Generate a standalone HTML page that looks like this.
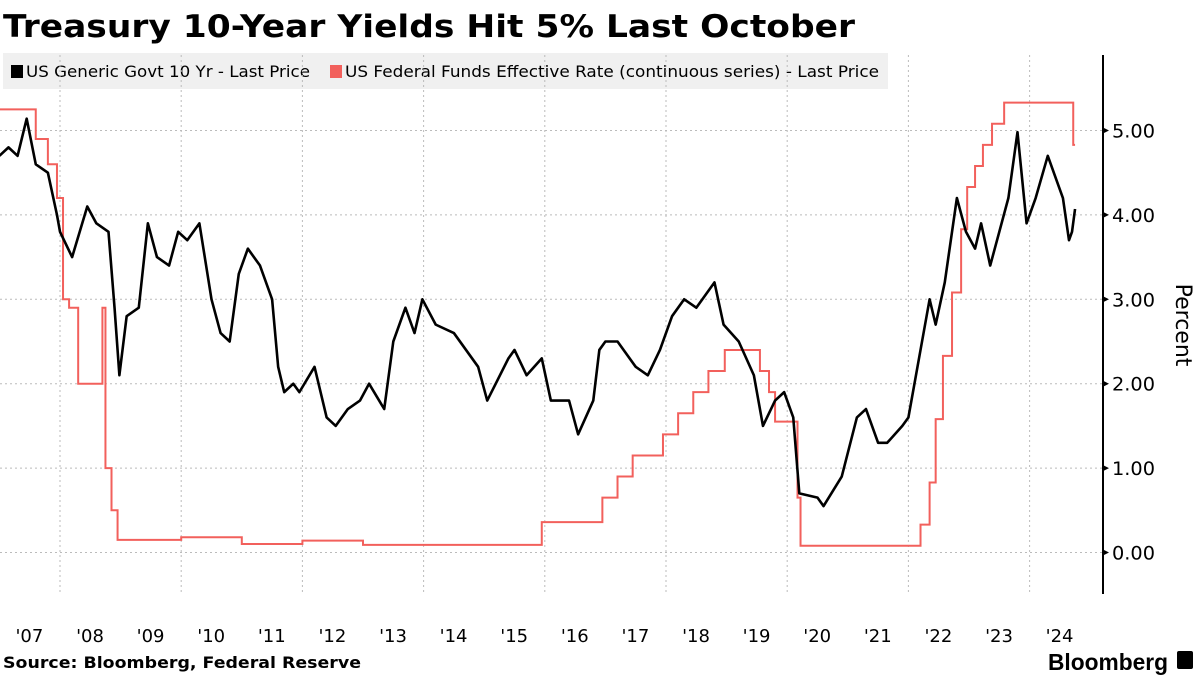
<!DOCTYPE html>
<html><head><meta charset="utf-8"><style>
body{margin:0;width:1200px;height:675px;background:#fff;overflow:hidden;font-family:"DejaVu Sans","Liberation Sans",sans-serif}
svg{position:absolute;left:0;top:0;font-family:"DejaVu Sans","Liberation Sans",sans-serif}
</style></head><body>
<svg id="c" width="1200" height="675">
<text x="3" y="37" font-size="31" font-weight="bold" fill="#000" textLength="852" lengthAdjust="spacingAndGlyphs">Treasury 10-Year Yields Hit 5% Last October</text>
<rect x="3" y="53" width="885" height="36" fill="#f0f0f0"/>
<g><rect x="11" y="65" width="12" height="13" fill="#000"/><text x="26" y="77" font-size="16" fill="#000" textLength="284" lengthAdjust="spacingAndGlyphs">US Generic Govt 10 Yr - Last Price</text></g>
<g><rect x="330" y="65" width="12" height="13" fill="#f2605c"/><text x="345" y="77" font-size="16" fill="#000" textLength="534" lengthAdjust="spacingAndGlyphs">US Federal Funds Effective Rate (continuous series) - Last Price</text></g>
<g id="grid"></g><g id="ffr"></g><g id="tsy"></g><g id="axes"></g>
<text transform="translate(1176,325) rotate(90)" text-anchor="middle" font-size="22" fill="#000">Percent</text>
<text x="3" y="668" font-size="16" font-weight="bold" fill="#000" textLength="358" lengthAdjust="spacingAndGlyphs">Source: Bloomberg, Federal Reserve</text>
<text x="1048" y="670" font-size="23" font-weight="bold" fill="#000" font-family="Liberation Sans" textLength="120" lengthAdjust="spacingAndGlyphs">Bloomberg</text>
<rect x="1177" y="651" width="16" height="18" rx="2" fill="#000"/>
</svg>
<script>
const xYears=[2007,2008,2009,2010,2011,2012,2013,2014,2015,2016,2017,2018,2019,2020,2021,2022,2023,2024];
const xLabels=["'07","'08","'09","'10","'11","'12","'13","'14","'15","'16","'17","'18","'19","'20","'21","'22","'23","'24"];
const yTicks=[0,1,2,3,4,5];
const yLabels=["0.00","1.00","2.00","3.00","4.00","5.00"];
const tsyDates=[2007,2007.15,2007.3,2007.45,2007.6,2007.8,2007.95,2008,2008.2,2008.45,2008.6,2008.8,2008.9,2008.98,2009.1,2009.3,2009.45,2009.6,2009.8,2009.95,2010.1,2010.3,2010.5,2010.65,2010.8,2010.95,2011.1,2011.3,2011.5,2011.6,2011.7,2011.85,2011.95,2012.2,2012.4,2012.55,2012.75,2012.95,2013.1,2013.35,2013.5,2013.7,2013.85,2013.98,2014.2,2014.5,2014.7,2014.9,2015.05,2015.4,2015.5,2015.7,2015.95,2016.1,2016.4,2016.55,2016.8,2016.9,2017,2017.2,2017.5,2017.7,2017.9,2018.1,2018.3,2018.5,2018.8,2018.95,2019.2,2019.45,2019.6,2019.8,2019.95,2020.1,2020.2,2020.5,2020.6,2020.9,2021.15,2021.3,2021.5,2021.65,2021.9,2022,2022.2,2022.35,2022.45,2022.6,2022.8,2022.95,2023.1,2023.2,2023.35,2023.5,2023.65,2023.8,2023.95,2024.1,2024.3,2024.45,2024.55,2024.65,2024.7,2024.75];
const tsyValues=[4.7,4.8,4.7,5.14,4.6,4.5,4.0,3.8,3.5,4.1,3.9,3.8,2.9,2.1,2.8,2.9,3.9,3.5,3.4,3.8,3.7,3.9,3.0,2.6,2.5,3.3,3.6,3.4,3.0,2.2,1.9,2.0,1.9,2.2,1.6,1.5,1.7,1.8,2.0,1.7,2.5,2.9,2.6,3.0,2.7,2.6,2.4,2.2,1.8,2.3,2.4,2.1,2.3,1.8,1.8,1.4,1.8,2.4,2.5,2.5,2.2,2.1,2.4,2.8,3.0,2.9,3.2,2.7,2.5,2.1,1.5,1.8,1.9,1.6,0.7,0.65,0.55,0.9,1.6,1.7,1.3,1.3,1.5,1.6,2.4,3.0,2.7,3.2,4.2,3.8,3.6,3.9,3.4,3.8,4.2,4.98,3.9,4.2,4.7,4.4,4.2,3.7,3.8,4.07];
const ffrDates=[2007,2007.6,2007.8,2007.95,2008.05,2008.15,2008.3,2008.7,2008.75,2008.85,2008.95,2009.5,2010,2011,2012,2013,2015.95,2016.95,2017.2,2017.45,2017.95,2018.2,2018.45,2018.7,2018.97,2019.55,2019.7,2019.8,2020.17,2020.22,2022.2,2022.35,2022.45,2022.57,2022.72,2022.87,2022.97,2023.1,2023.23,2023.38,2023.58,2024.72,2024.75];
const ffrValues=[5.25,4.9,4.6,4.2,3.0,2.9,2.0,2.9,1.0,0.5,0.15,0.15,0.18,0.1,0.14,0.09,0.36,0.65,0.9,1.15,1.4,1.65,1.9,2.15,2.4,2.15,1.9,1.55,0.65,0.08,0.33,0.83,1.58,2.33,3.08,3.83,4.33,4.58,4.83,5.08,5.33,4.83,4.83];
const NS="http://www.w3.org/2000/svg";
const X=y=>-0.6+(y-2007)*60.6;
const Y=v=>552.5-v*84.4;
function el(t,a,p){const e=document.createElementNS(NS,t);for(const k in a)e.setAttribute(k,a[k]);document.getElementById(p).appendChild(e);return e;}
xYears.forEach((yr,i)=>{
 if(i%2===1){const g=el('line',{x1:X(yr),x2:X(yr),y1:55,y2:594,stroke:'#bbb','stroke-dasharray':'2,3'},'grid');
 
 }
 const t=el('text',{x:X(yr)+30,y:642,'text-anchor':'middle','font-size':18,fill:'#000'},'axes');t.textContent=xLabels[i];
 
 
});
yTicks.forEach((v,i)=>{
 const g=el('line',{x1:0,x2:1103,y1:Y(v),y2:Y(v),stroke:'#bbb','stroke-dasharray':'2,3'},'grid');
 
 
 const tk=el('path',{d:`M1103 ${Y(v)-3}L1109 ${Y(v)}L1103 ${Y(v)+3}Z`,fill:'#000'},'axes');
 
 
 const t=el('text',{x:1112,y:Y(v)+7,'font-size':19,fill:'#000',textLength:43,lengthAdjust:'spacingAndGlyphs'},'axes');t.textContent=yLabels[i];
 
 
});
const ax=el('line',{x1:1103,x2:1103,y1:55,y2:594,stroke:'#000','stroke-width':2},'axes');


let d='';ffrDates.forEach((t,i)=>{d+=i?`H${X(t)}V${Y(ffrValues[i])}`:`M${X(t)} ${Y(ffrValues[i])}`;});
const f=el('path',{d:d,fill:'none',stroke:'#f2605c','stroke-width':2},'ffr');


const p=el('polyline',{points:tsyDates.map((t,i)=>X(t)+','+Y(tsyValues[i])).join(' '),fill:'none',stroke:'#000','stroke-width':2.6,'stroke-linejoin':'round'},'tsy');


</script>
</body></html>
